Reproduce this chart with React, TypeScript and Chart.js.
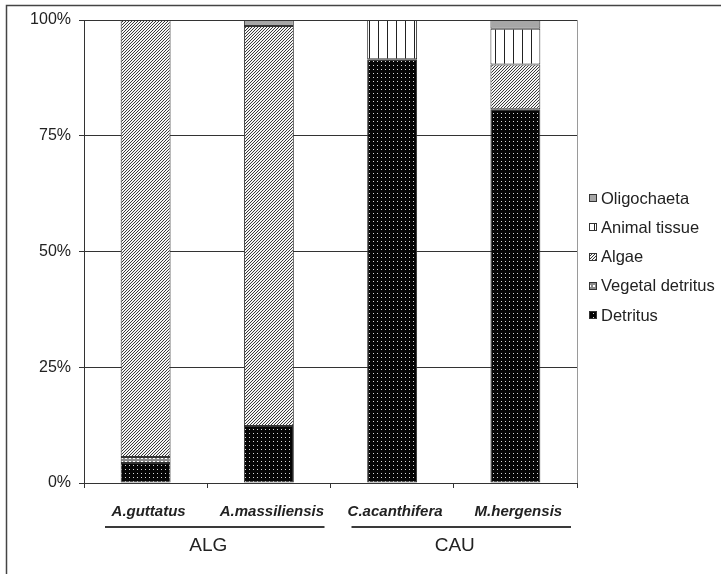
import React, { useEffect, useRef } from "react";
import { Chart, registerables } from "chart.js";

Chart.register(...registerables);

// ---- data ----
const species = ["A.guttatus", "A.massiliensis", "C.acanthifera", "M.hergensis"];
const groups = ["ALG", "CAU"];
const groupStart = [0, 2];
const groupEnd = [1, 3];
const detritus = [4.3, 12.3, 91.5, 80.7];
const vegetalDetritus = [1.3, 0, 0, 0];
const algae = [94.4, 86.4, 0, 9.7];
const animalTissue = [0, 0, 8.5, 7.7];
const oligochaeta = [0, 1.3, 0, 1.9];
const yTickValues = [0, 25, 50, 75, 100];
const seriesNames = ["Detritus", "Vegetal detritus", "Algae", "Animal tissue", "Oligochaeta"];

const FONT = "'Liberation Sans', Arial, sans-serif";

function makePattern(kind: string): CanvasPattern | string {
  const c = document.createElement("canvas");
  const ctx = c.getContext("2d")!;
  if (kind === "dots") {
    c.width = 4; c.height = 4;
    ctx.fillStyle = "#050505"; ctx.fillRect(0, 0, 4, 4);
    ctx.fillStyle = "#d8d8d8"; ctx.fillRect(1, 1, 1, 1);
  } else if (kind === "checker") {
    c.width = 4; c.height = 4;
    ctx.fillStyle = "#8a8a8a"; ctx.fillRect(0, 0, 4, 4);
    ctx.fillStyle = "#ffffff"; ctx.fillRect(1, 1, 2, 2);
  } else if (kind === "diag") {
    c.width = 3; c.height = 3;
    ctx.fillStyle = "#f4f4f4"; ctx.fillRect(0, 0, 3, 3);
    ctx.fillStyle = "#3a3a3a";
    ctx.fillRect(2, 0, 1, 1); ctx.fillRect(1, 1, 1, 1); ctx.fillRect(0, 2, 1, 1);
  } else if (kind === "vlines") {
    c.width = 9; c.height = 2;
    ctx.fillStyle = "#ffffff"; ctx.fillRect(0, 0, 9, 2);
    ctx.fillStyle = "#222222"; ctx.fillRect(0, 0, 1, 2);
  } else {
    return "#a6a6a6";
  }
  return ctx.createPattern(c, "repeat")!;
}

export default function App() {
  const ref = useRef<HTMLCanvasElement | null>(null);

  useEffect(() => {
    document.body.style.margin = "0";
    document.body.style.background = "#ffffff";
    const canvas = ref.current!;
    const fills = [
      makePattern("dots"),
      makePattern("checker"),
      makePattern("diag"),
      makePattern("vlines"),
      makePattern("solid"),
    ];
    const values = [detritus, vegetalDetritus, algae, animalTissue, oligochaeta];

    const extras = {
      id: "extras",
      afterDraw(chart: any) {
        const ctx = chart.ctx as CanvasRenderingContext2D;
        const area = chart.chartArea;
        const xs = chart.scales.x;
        ctx.save();
        // right border of plot area
        ctx.strokeStyle = "#9a9a9a";
        ctx.lineWidth = 1;
        ctx.beginPath();
        ctx.moveTo(Math.round(area.right) + 0.5, area.top);
        ctx.lineTo(Math.round(area.right) + 0.5, area.bottom);
        ctx.stroke();

        // outer frame
        ctx.strokeStyle = "#444444";
        ctx.lineWidth = 1.5;
        ctx.beginPath();
        ctx.moveTo(6.5, 580);
        ctx.lineTo(6.5, 5.5);
        ctx.lineTo(725, 5.5);
        ctx.stroke();

        // group lines and labels
        const half = (xs.getPixelForValue(1) - xs.getPixelForValue(0)) / 2;
        groups.forEach((g, gi) => {
          const left = xs.getPixelForValue(groupStart[gi]) - half;
          const right = xs.getPixelForValue(groupEnd[gi]) + half;
          ctx.strokeStyle = "#3a3a3a";
          ctx.lineWidth = 2;
          ctx.beginPath();
          ctx.moveTo(left + 21, 527);
          ctx.lineTo(right - 6, 527);
          ctx.stroke();
          ctx.fillStyle = "#222222";
          ctx.font = `19px ${FONT}`;
          ctx.textAlign = "center";
          ctx.textBaseline = "middle";
          ctx.fillText(g, (left + right) / 2 + 1, 546);
        });

        // legend (reverse order)
        const order = [4, 3, 2, 1, 0];
        order.forEach((di, k) => {
          const cy = 198 + k * 29.25;
          const bx = 589;
          ctx.fillStyle = fills[di] as any;
          ctx.fillRect(bx, Math.round(cy - 4), 8, 8);
          ctx.strokeStyle = "#333333";
          ctx.lineWidth = 1;
          ctx.strokeRect(bx + 0.5, Math.round(cy - 4) + 0.5, 7, 7);
          ctx.fillStyle = "#222222";
          ctx.font = `16.5px ${FONT}`;
          ctx.textAlign = "left";
          ctx.textBaseline = "middle";
          ctx.fillText(seriesNames[di], 601, cy + 1);
        });
        ctx.restore();
      },
    };

    const chart = new Chart(canvas, {
      type: "bar",
      data: {
        labels: species,
        datasets: seriesNames.map((name, i) => ({
          label: name,
          data: values[i],
          backgroundColor: fills[i] as any,
          borderColor: "#333333",
          borderWidth: 1,
          borderSkipped: false,
          barPercentage: 0.405,
          categoryPercentage: 1,
        })),
      },
      options: {
        responsive: false,
        animation: false,
        layout: { padding: { left: 0, top: 20, right: 144, bottom: 0 } },
        plugins: { legend: { display: false }, tooltip: { enabled: false } },
        scales: {
          x: {
            stacked: true,
            offset: true,
            grid: {
              display: true,
              offset: true,
              drawOnChartArea: false,
              drawTicks: true,
              tickLength: 5,
              color: "#333333",
            },
            border: { display: true, color: "#333333", width: 1 },
            ticks: {
              font: { family: FONT, size: 15, style: "italic", weight: "bold" },
              color: "#222222",
              padding: 15,
              labelOffset: 3,
              maxRotation: 0,
              autoSkip: false,
            },
            afterFit: (s: any) => {
              s.height = 91;
            },
          },
          y: {
            stacked: true,
            min: 0,
            max: 100,
            afterBuildTicks: (s: any) => {
              s.ticks = yTickValues.map((v) => ({ value: v }));
            },
            grid: { color: "#333333", tickLength: 5, lineWidth: 1 },
            border: { display: true, color: "#333333", width: 1 },
            ticks: {
              font: { family: FONT, size: 16 },
              color: "#222222",
              padding: 8,
              callback: (v: any) => `${v}%`,
            },
            afterFit: (s: any) => {
              s.width = 84;
            },
          },
        },
      },
      plugins: [extras],
    });
    return () => chart.destroy();
  }, []);

  return (
    <canvas
      ref={ref}
      width={721}
      height={574}
      style={{ display: "block", width: 721, height: 574 }}
    />
  );
}
